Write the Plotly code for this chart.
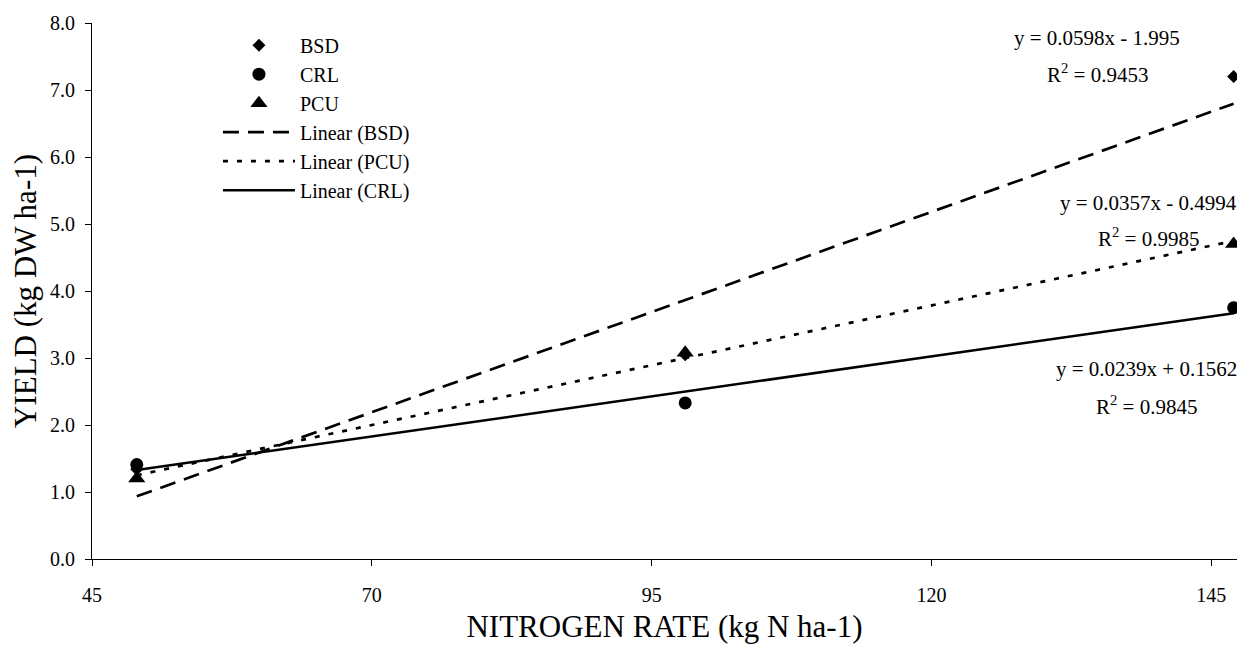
import plotly.graph_objects as go

# Data
nitrogen_rate = [49, 98, 147]
bsd_yield = [1.34, 3.05, 7.20]
crl_yield = [1.41, 2.33, 3.75]
pcu_yield = [1.20, 3.08, 4.70]

# Linear trendline coefficients as printed on the chart
trend_names = ["BSD", "PCU", "CRL"]
trend_slopes = [0.0598, 0.0357, 0.0239]
trend_intercepts = [-1.995, -0.4994, 0.1562]
trend_r2 = ["0.9453", "0.9985", "0.9845"]

x_ticks = [45, 70, 95, 120, 145]
y_ticks = [0, 1, 2, 3, 4, 5, 6, 7, 8]

FONT = "Liberation Serif"
fig = go.Figure()

series = [("BSD", bsd_yield, "diamond", 10),
          ("CRL", crl_yield, "circle", 13),
          ("PCU", pcu_yield, "triangle-up", 15)]
for name, ys, sym, sz in series:
    fig.add_trace(go.Scatter(
        x=nitrogen_rate, y=ys, mode="markers", name=name,
        marker=dict(symbol=sym, size=sz, color="black", line=dict(width=0))))

dashes = {"BSD": "16px,9px", "PCU": "5px,9px", "CRL": "solid"}
widths = {"BSD": 2.7, "PCU": 2.7, "CRL": 2.5}
xs = [min(nitrogen_rate), max(nitrogen_rate)]
for name, m, b in zip(trend_names, trend_slopes, trend_intercepts):
    fig.add_trace(go.Scatter(
        x=xs, y=[m * x + b for x in xs], mode="lines",
        name=f"Linear ({name})",
        line=dict(color="black", width=widths[name], dash=dashes[name])))

# equation label positions (x centre, line-1 y, line-2 y) in data units
ann_pos = {"BSD": (134.8, 7.77, 7.24),
           "PCU": (139.4, 5.32, 4.80),
           "CRL": (139.2, 2.83, 2.29)}
for name, m, b, r2 in zip(trend_names, trend_slopes, trend_intercepts, trend_r2):
    ax, y1, y2 = ann_pos[name]
    sign = "-" if b < 0 else "+"
    fig.add_annotation(x=ax, y=y1, xref="x", yref="y",
                       text=f"y = {m}x {sign} {abs(b)}",
                       showarrow=False, font=dict(family=FONT, size=21, color="black"))
    fig.add_annotation(x=ax, y=y2, xref="x", yref="y",
                       text=f"R<sup>2</sup> = {r2}",
                       showarrow=False, font=dict(family=FONT, size=21, color="black"))

fig.update_layout(
    width=1252, height=651,
    margin=dict(l=92, r=15, t=18, b=92),
    paper_bgcolor="white", plot_bgcolor="white",
    font=dict(family=FONT, color="black"),
    showlegend=True,
    legend=dict(x=0.11, y=0.995, xanchor="left", yanchor="top",
                font=dict(family=FONT, size=20, color="black"),
                traceorder="normal",
                bgcolor="rgba(0,0,0,0)", itemwidth=72),
    xaxis=dict(range=[45, 147.3], tickvals=x_ticks, ticktext=[str(v) for v in x_ticks],
               showgrid=False, zeroline=False, showline=True, linecolor="black",
               linewidth=1, ticks="outside", ticklen=6, tickcolor="black",
               ticklabelstandoff=12,
               tickfont=dict(family=FONT, size=20, color="black"),
               title=dict(text="NITROGEN RATE (kg N ha-1)",
                          font=dict(family=FONT, size=31, color="black"), standoff=10)),
    yaxis=dict(range=[0, 8], tickvals=y_ticks, ticktext=[f"{v:.1f}" for v in y_ticks],
               showgrid=False, zeroline=False, showline=True, linecolor="black",
               linewidth=1, ticks="outside", ticklen=6, tickcolor="black",
               ticklabelstandoff=6,
               tickfont=dict(family=FONT, size=20, color="black"),
               title=dict(text="YIELD (kg DW ha-1)",
                          font=dict(family=FONT, size=31, color="black"), standoff=4)),
)

fig.write_html("out.html")
